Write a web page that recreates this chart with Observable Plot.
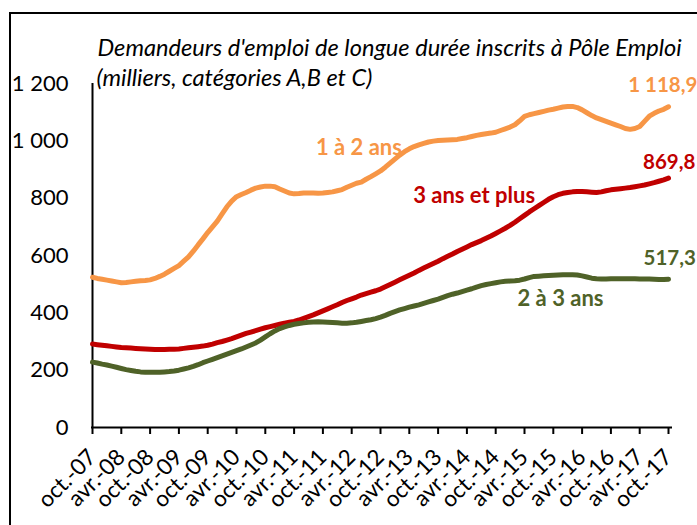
<!DOCTYPE html>
<html>
<head>
<meta charset="utf-8">
<script src="https://cdn.jsdelivr.net/npm/d3@7"></script>
<script src="https://cdn.jsdelivr.net/npm/@observablehq/plot@0.6"></script>
<style>
  html, body { margin: 0; padding: 0; background: #fff; overflow: hidden; width: 697px; height: 525px; }
  #frame { position: absolute; left: 9px; top: 12px; width: 760px; height: 600px; border: 2px solid #000; }
  #chart { position: absolute; left: 0; top: 0; }
</style>
</head>
<body>
<div id="frame"></div>
<div id="chart"></div>
<script>
// Monthly series, oct.-07 (index 0) to oct.-17 (index 120), thousands
const series1a2 = [
  524, 520, 517, 514, 511, 508, 505, 506, 508, 510, 512, 513,
  515, 520, 527, 535, 545, 555, 565, 580, 595, 615, 637, 658,
  680, 700, 720, 745, 770, 790, 805, 813, 820, 828, 835, 839,
  842, 842, 840, 832, 825, 818, 815, 816, 818, 818, 818, 817,
  818, 820, 822, 826, 830, 838, 845, 852, 856, 866, 875, 885,
  895, 908, 922, 936, 950, 962, 972, 980, 986, 991, 996, 999,
  1001, 1002, 1003, 1004, 1005, 1008, 1011, 1015, 1019, 1022, 1025, 1027,
  1030, 1036, 1042, 1048, 1056, 1070, 1085, 1091, 1095, 1099, 1103, 1107,
  1110, 1114, 1118, 1120, 1120, 1116, 1108, 1098, 1088, 1080, 1074, 1068,
  1062, 1056, 1050, 1043, 1040, 1043, 1050, 1068, 1086, 1096, 1104, 1110,
  1118.9
];
const series3plus = [
  291, 289, 287, 285, 283, 281, 279, 278, 277, 276, 275, 274,
  273, 272, 272, 272, 273, 273, 274, 276, 278, 280, 282, 284,
  287, 291, 296, 300, 305, 310, 316, 322, 328, 333, 338, 343,
  348, 352, 356, 360, 364, 367, 370, 375, 381, 387, 393, 400,
  407, 414, 421, 428, 436, 443, 449, 455, 462, 467, 472, 477,
  483, 491, 499, 507, 515, 523, 531, 539, 548, 556, 564, 572,
  580, 589, 597, 605, 614, 622, 630, 638, 645, 652, 660, 668,
  677, 686, 695, 705, 716, 728, 740, 752, 763, 774, 785, 796,
  805, 812, 817, 820, 822, 823, 823, 822, 821, 820, 822, 826,
  829, 831, 833, 835, 837, 840, 843, 846, 850, 854, 859, 864,
  869.8
];
const series2a3 = [
  228, 225, 221, 218, 214, 210, 206, 202, 199, 196, 194, 193,
  193, 193, 193, 194, 195, 197, 200, 204, 208, 213, 219, 226,
  232, 238, 244, 250, 256, 262, 268, 274, 281, 288, 295, 305,
  316, 327, 337, 345, 351, 356, 360, 363, 365, 367, 368, 369,
  368, 367, 366, 365, 364, 364, 365, 367, 370, 373, 376, 380,
  385, 391, 398, 404, 410, 415, 420, 424, 428, 433, 438, 443,
  448, 454, 460, 465, 469, 474, 479, 484, 490, 495, 499, 502,
  505, 508, 510, 511, 512, 514, 518, 523, 527, 528, 529, 530,
  531, 532, 533, 533, 533, 532, 529, 525, 521, 519, 518, 518,
  519, 519, 519, 519, 519, 519, 518, 518, 518, 517, 516, 516,
  517.3
];
const seriesNames = ["1 à 2 ans", "3 ans et plus", "2 à 3 ans"];
const seriesColors = ["#F79646", "#C00000", "#4F6228"];
const endLabels = ["1 118,9", "869,8", "517,3"];
const xTickMonths = [0, 6, 12, 18, 24, 30, 36, 42, 48, 54, 60, 66, 72, 78, 84, 90, 96, 102, 108, 114, 120];
const xTickLabels = ["oct.-07", "avr.-08", "oct.-08", "avr.-09", "oct.-09", "avr.-10", "oct.-10", "avr.-11",
  "oct.-11", "avr.-12", "oct.-12", "avr.-13", "oct.-13", "avr.-14", "oct.-14", "avr.-15", "oct.-15",
  "avr.-16", "oct.-16", "avr.-17", "oct.-17"];
const yTicks = [0, 200, 400, 600, 800, 1000, 1200];
const yTickLabels = ["0", "200", "400", "600", "800", "1 000", "1 200"];
const titleLines = ["Demandeurs d'emploi de longue durée inscrits à Pôle Emploi", "(milliers, catégories A,B et C)"];

const allSeries = [series1a2, series3plus, series2a3];
const rows = allSeries.flatMap((vals, s) => vals.map((v, i) => ({month: i, value: v, name: seriesNames[s]})));

// annotation anchors (data space)
const nameLabels = [
  {name: seriesNames[0], month: 55.5, value: 975},
  {name: seriesNames[1], month: 79.5, value: 808},
  {name: seriesNames[2], month: 97.5, value: 448}
];
const endLabelRows = endLabels.map((t, s) => ({
  text: t, name: seriesNames[s],
  month: [111.6, 114.7, 114.8][s],
  value: allSeries[s][120] + [74, 54, 74][s]
}));

const chart = Plot.plot({
  width: 697,
  height: 525,
  marginLeft: 92,
  marginRight: 29,
  marginTop: 83,
  marginBottom: 98,
  style: {fontFamily: "Lato, 'DejaVu Sans', sans-serif", fontSize: "22px", color: "#000", background: "transparent"},
  x: {domain: [0, 120]},
  y: {domain: [0, 1200]},
  color: {domain: seriesNames, range: seriesColors},
  marks: [
    Plot.axisY({ticks: yTicks, tickFormat: (d) => yTickLabels[yTicks.indexOf(d)], tickSize: 0, tickPadding: 24, fontSize: 22, label: null}),
    Plot.axisX({ticks: xTickMonths, tickFormat: (d) => xTickLabels[xTickMonths.indexOf(d)], tickRotate: -45, tickSize: 7, tickPadding: 19, strokeWidth: 2, fontSize: 22.5, label: null}),
    Plot.ruleX([0], {strokeWidth: 2, stroke: "#000"}),
    Plot.ruleY([0], {strokeWidth: 2, stroke: "#000", insetLeft: -1, insetRight: -4}),
    Plot.line(rows, {x: "month", y: "value", z: "name", stroke: "name", strokeWidth: 5, strokeLinecap: "round", strokeLinejoin: "round"}),
    Plot.text(nameLabels, {x: "month", y: "value", text: "name", fill: "name", fontWeight: "bold", fontSize: 22, textAnchor: "middle"}),
    Plot.text(endLabelRows, {x: "month", y: "value", text: "text", fill: "name", fontWeight: "bold", fontSize: 20.5, textAnchor: "start"}),
    Plot.text([titleLines[0]], {frameAnchor: "top-left", dx: 5, dy: -44, text: (d) => d, textAnchor: "start", fontStyle: "italic", fontSize: 23.6}),
    Plot.text([titleLines[1]], {frameAnchor: "top-left", dx: 4, dy: -14, text: (d) => d, textAnchor: "start", fontStyle: "italic", fontSize: 23.6})
  ]
});
document.getElementById("chart").appendChild(chart);
</script>
</body>
</html>
